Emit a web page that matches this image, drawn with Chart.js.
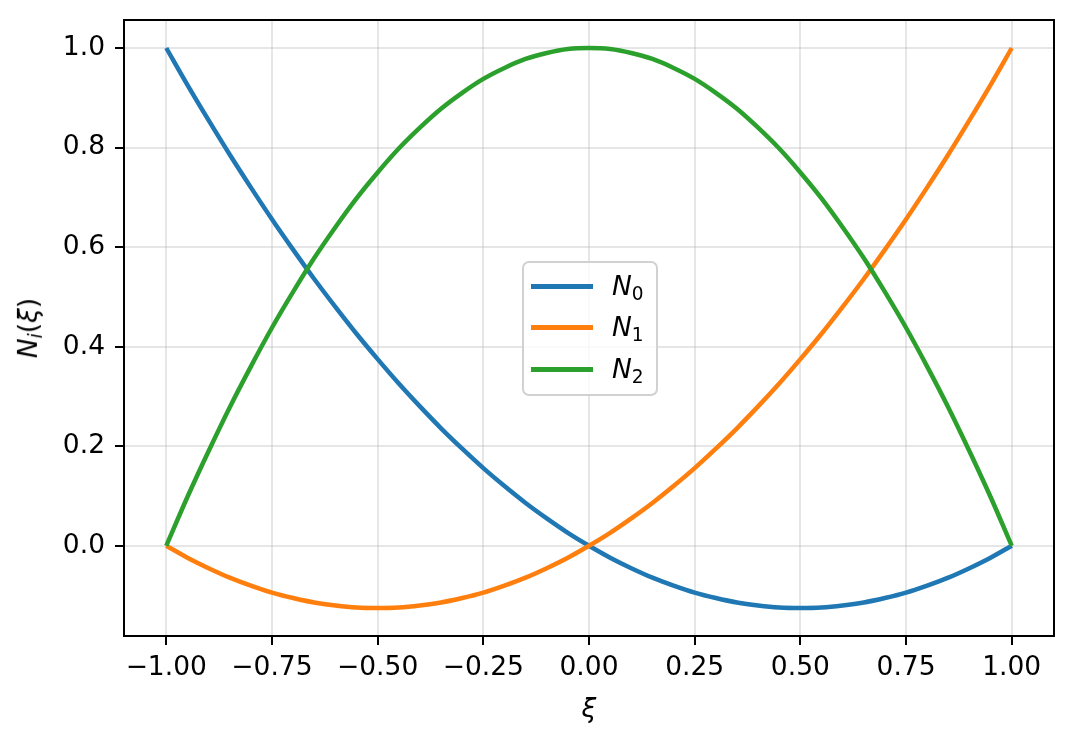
<!DOCTYPE html>
<html>
<head>
<meta charset="utf-8">
<script src="https://cdn.jsdelivr.net/npm/chart.js@4/dist/chart.umd.min.js"></script>
<style>
  body { margin: 0; background: #fff; }
  #wrap { position: relative; width: 1074px; height: 743px; font-family: "DejaVu Sans", sans-serif; }
  #plot { position: absolute; left: 0; top: 0; }
  .ttl { position: absolute; font-size: 26.5px; color: #000; white-space: nowrap; line-height: 1; }
  .ttl sub, .leg sub { font-size: 70%; vertical-align: -0.25em; }
  #ytitle { left: 30px; top: 328px; transform: translate(-50%, -50%) rotate(-90deg); }
  #xtitle { left: 589px; top: 708px; transform: translate(-50%, -50%); }
  #legend { position: absolute; left: 522px; top: 261px; width: 132px; height: 131px;
            border: 2px solid rgba(204,204,204,0.9); border-radius: 7px; background: rgba(255,255,255,0.8); }
  .leg { position: absolute; left: 0; width: 100%; height: 30px; font-size: 26.5px; line-height: 30px; }
  .leg .sw { position: absolute; left: 7px; top: 13px; width: 62px; height: 4.5px; }
  .leg .tx { position: absolute; left: 88px; top: 0; }
</style>
</head>
<body>
<div id="wrap">
  <canvas id="plot" width="1074" height="743"></canvas>
  <div class="ttl" id="ytitle"><i>N<sub>i</sub></i>(<i>ξ</i>)</div>
  <div class="ttl" id="xtitle"><i>ξ</i></div>
  <div id="legend"></div>
</div>
<script>
// sample positions along xi
var xi = [-1, -0.95, -0.9, -0.85, -0.8, -0.75, -0.7, -0.65, -0.6, -0.55, -0.5, -0.45, -0.4, -0.35, -0.3, -0.25, -0.2, -0.15, -0.1, -0.05,
          0, 0.05, 0.1, 0.15, 0.2, 0.25, 0.3, 0.35, 0.4, 0.45, 0.5, 0.55, 0.6, 0.65, 0.7, 0.75, 0.8, 0.85, 0.9, 0.95, 1];

// shape function values
var n0 = [1, 0.926, 0.855, 0.786, 0.72, 0.656, 0.595, 0.536, 0.48, 0.426, 0.375, 0.326, 0.28, 0.236, 0.195, 0.156, 0.12, 0.086, 0.055, 0.026,
          0, -0.024, -0.045, -0.064, -0.08, -0.094, -0.105, -0.114, -0.12, -0.124, -0.125, -0.124, -0.12, -0.114, -0.105, -0.094, -0.08, -0.064, -0.045, -0.024, 0];
var n1 = [0, -0.024, -0.045, -0.064, -0.08, -0.094, -0.105, -0.114, -0.12, -0.124, -0.125, -0.124, -0.12, -0.114, -0.105, -0.094, -0.08, -0.064, -0.045, -0.024,
          0, 0.026, 0.055, 0.086, 0.12, 0.156, 0.195, 0.236, 0.28, 0.326, 0.375, 0.426, 0.48, 0.536, 0.595, 0.656, 0.72, 0.786, 0.855, 0.926, 1];
var n2 = [0, 0.098, 0.19, 0.278, 0.36, 0.438, 0.51, 0.578, 0.64, 0.698, 0.75, 0.798, 0.84, 0.878, 0.91, 0.938, 0.96, 0.978, 0.99, 0.998,
          1, 0.998, 0.99, 0.978, 0.96, 0.938, 0.91, 0.878, 0.84, 0.798, 0.75, 0.698, 0.64, 0.578, 0.51, 0.438, 0.36, 0.278, 0.19, 0.098, 0];

var seriesNames = ['0', '1', '2'];
var colors = ['#1f77b4', '#ff7f0e', '#2ca02c'];
var xTicks = [-1, -0.75, -0.5, -0.25, 0, 0.25, 0.5, 0.75, 1];
var yTicks = [0, 0.2, 0.4, 0.6, 0.8, 1.0];

function pts(ys) {
    return ys.map(function(y, i) { return {x: xi[i], y: y}; });
}

function fmt(v, d) {
    var s = v.toFixed(d);
    return s.charAt(0) == '-' ? '\u2212' + s.slice(1) : s;
}

var frame = {
    id: 'frame',
    afterDraw: function(chart) {
        var a = chart.chartArea, c = chart.ctx;
        c.save();
        c.strokeStyle = '#000';
        c.lineWidth = 2;
        c.strokeRect(a.left, a.top, a.right - a.left, a.bottom - a.top);
        c.restore();
    }
};

var tickFont = {family: 'DejaVu Sans', size: 26.5};
var gridOpts = {color: 'rgba(176,176,176,0.32)', lineWidth: 2, tickColor: '#000', tickWidth: 2, tickLength: 9};

var allSeries = [n0, n1, n2];
var ct = document.getElementById('plot');
new Chart(ct.getContext('2d'), {
    type: 'line',
    data: {
        datasets: allSeries.map(function(s, i) {
            return {
                label: 'N' + seriesNames[i],
                data: pts(s),
                borderColor: colors[i],
                backgroundColor: colors[i],
                borderWidth: 4.5,
                pointRadius: 0,
                cubicInterpolationMode: 'monotone',
                fill: false,
                order: 2 - i
            };
        })
    },
    options: {
        responsive: false,
        animation: false,
        devicePixelRatio: 1,
        layout: {padding: {left: 0, right: 20, top: 20, bottom: 0}},
        plugins: {legend: {display: false}, tooltip: {enabled: false}},
        scales: {
            x: {
                type: 'linear',
                min: -1.1, max: 1.1,
                afterBuildTicks: function(ax) { ax.ticks = xTicks.map(function(v) { return {value: v}; }); },
                afterFit: function(ax) { ax.height = 107; ax.paddingLeft = 0; ax.paddingRight = 0; },
                ticks: {color: '#000', font: tickFont, padding: 7, maxRotation: 0,
                        callback: function(v) { return fmt(v, 2); }},
                grid: gridOpts,
                border: {color: '#000', width: 2}
            },
            y: {
                type: 'linear',
                min: -0.18125, max: 1.05625,
                afterBuildTicks: function(ax) { ax.ticks = yTicks.map(function(v) { return {value: v}; }); },
                afterFit: function(ax) { ax.width = 124; ax.paddingTop = 0; ax.paddingBottom = 0; },
                ticks: {color: '#000', font: tickFont, padding: 10,
                        callback: function(v) { return fmt(v, 1); }},
                grid: gridOpts,
                border: {color: '#000', width: 2}
            }
        }
    },
    plugins: [frame]
});

// legend box
var leg = document.getElementById('legend');
var rowTop = [8, 49, 91];
seriesNames.forEach(function(n, i) {
    var row = document.createElement('div');
    row.className = 'leg';
    row.style.top = rowTop[i] + 'px';
    row.innerHTML = '<span class="sw" style="background:' + colors[i] + '"></span>' +
                    '<span class="tx"><i>N</i><sub>' + n + '</sub></span>';
    leg.appendChild(row);
});
</script>
</body>
</html>
